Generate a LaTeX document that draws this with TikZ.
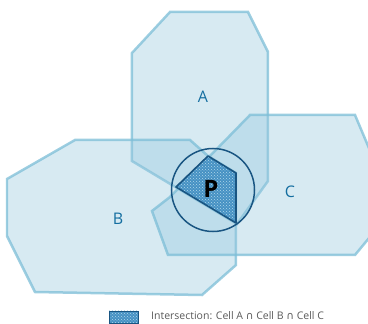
\documentclass[tikz,border=0pt]{standalone}
\usepackage{fontspec}
\setmainfont{Open Sans}
\newfontfamily\symfont{DejaVu Sans}
\usetikzlibrary{patterns}
\definecolor{cellfill}{RGB}{150,200,222}
\definecolor{celledge}{RGB}{125,190,215}
\definecolor{labelblue}{RGB}{20,110,160}
\definecolor{pfill}{RGB}{70,145,195}
\definecolor{pdots}{RGB}{175,215,235}
\definecolor{pedge}{RGB}{25,85,130}
\tikzset{
  cell/.style={fill=cellfill, fill opacity=0.38, draw=celledge, draw opacity=0.75, line width=2.5pt, line join=miter},
  celllabel/.style={text=labelblue, font=\fontsize{16}{16}\selectfont},
  interdots/.style={pattern=crosshatch dots, pattern color=pdots},
}
\begin{document}
\begin{tikzpicture}[x=1pt,y=-1pt]
\useasboundingbox (0,0) rectangle (368,324);
\begin{scope}
\clip (0,0) rectangle (368,324);
% Cell A
\draw[cell] (170,12) -- (248,12) -- (268,52) -- (268,181) -- (237,224) -- (132,161) -- (132,53) -- cycle;
% Cell B
\draw[cell] (75,140) -- (190,140) -- (208,156) -- (236,173) -- (236,265) -- (202,295) -- (35,292) -- (7,236) -- (7,179) -- cycle;
% Cell C
\draw[cell] (250,115) -- (355,115) -- (374,160) -- (374,232) -- (355,255) -- (168,255) -- (152,211) -- (170,197) -- cycle;
\end{scope}
% Intersection P
\fill[pfill] (176,187) -- (208,156) -- (236,173) -- (236,223) -- cycle;
\fill[interdots] (176,187) -- (208,156) -- (236,173) -- (236,223) -- cycle;
\draw[draw=pedge, line width=1.6pt, line join=round] (176,187) -- (208,156) -- (236,173) -- (236,223) -- cycle;
% Circle
\node[circle, draw=pedge, line width=1.5pt, minimum size=83pt, inner sep=0pt] (circ) at (213,190) {};
\node[font=\fontsize{24}{24}\selectfont\bfseries] (P) at (211,189) {P};
% Labels
\node[celllabel] (A) at (203,97) {A};
\node[celllabel] (B) at (118,219) {B};
\node[celllabel] (C) at (290,192) {C};
% Legend
\fill[pfill] (109,311) rectangle (139,324);
\fill[interdots] (109,311) rectangle (139,324);
\draw[draw=pedge, line width=1pt] (109.5,311.5) rectangle (138.5,323.5);
\node[anchor=west, inner sep=0pt, text=black!65, font=\fontsize{10.5}{11}\selectfont] (leg) at (151,316) {Intersection: Cell A {\symfont ∩} Cell B {\symfont ∩} Cell C};
\end{tikzpicture}
\end{document}
